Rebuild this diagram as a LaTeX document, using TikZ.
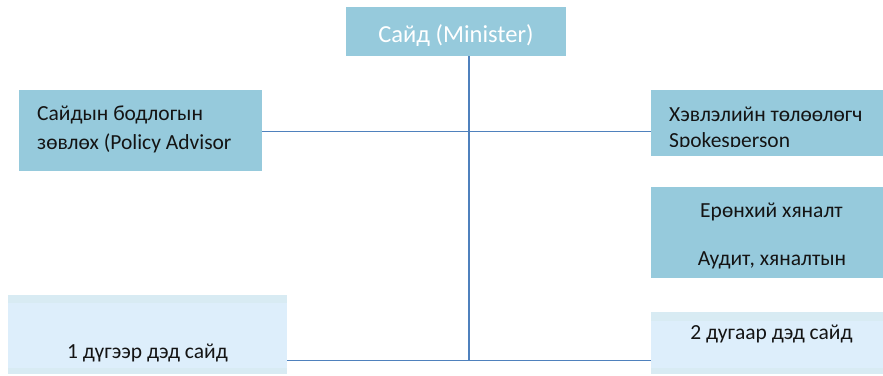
\documentclass[tikz,border=0pt]{standalone}
\usepackage{fontspec}
\setmainfont{Carlito}
\definecolor{boxblue}{HTML}{96CADC}
\definecolor{boxlight}{HTML}{DDEEFB}
\definecolor{bandlight}{HTML}{D8EBF3}
\definecolor{linkblue}{HTML}{4F81BD}
\tikzset{
  orgbox/.style={draw=none, fill=boxblue, rectangle, inner sep=0pt},
  lightbox/.style={draw=none, fill=boxlight, rectangle, inner sep=0pt},
  band/.style={draw=none, fill=bandlight, rectangle, inner sep=0pt},
  txt/.style={inner sep=0pt, font=\fontsize{21.5}{25}\selectfont, text=black!92},
  toptxt/.style={inner sep=0pt, font=\fontsize{24.5}{28}\selectfont, text=white},
  link/.style={draw=linkblue, line width=1.5pt}
}
\begin{document}
\begin{tikzpicture}[x=1pt,y=-1pt]
\useasboundingbox (0,0) rectangle (883,375);
% boxes
\node[orgbox, minimum width=220pt, minimum height=49pt] (top) at (456,31.5) {};
\node[orgbox, minimum width=243pt, minimum height=81pt] (adv) at (140.5,130.5) {};
\node[orgbox, minimum width=232pt, minimum height=66pt] (spk) at (767,123) {};
\node[orgbox, minimum width=232pt, minimum height=91pt] (aud) at (767,232.5) {};
\node[lightbox, minimum width=279pt, minimum height=79pt] (dep1) at (147.5,334.5) {};
\node[band, minimum width=279pt, minimum height=8pt] (dep1t) at (147.5,299) {};
\node[band, minimum width=279pt, minimum height=6pt] (dep1b) at (147.5,371) {};
\node[lightbox, minimum width=232pt, minimum height=62pt] (dep2) at (767,343) {};
\node[band, minimum width=232pt, minimum height=9pt] (dep2t) at (767,316.5) {};
\node[band, minimum width=232pt, minimum height=6pt] (dep2b) at (767,371) {};
% texts
\node[toptxt, anchor=base] (toptext) at (456,42.5) {Сайд (Minister)};
\node[txt, anchor=base west] (adv1) at (37,120) {Сайдын бодлогын};
\node[txt, anchor=base west] (adv2) at (37,149) {зөвлөх (Policy Advisor};
\begin{scope}
\clip (651,90) rectangle (883,146);
\node[txt, anchor=base west] (spk1) at (669,121.5) {Хэвлэлийн төлөөлөгч};
\node[txt, anchor=base west] (spk2) at (669,147.5) {Spokesperson};
\end{scope}
\node[txt, anchor=base] (aud1) at (771.5,217.5) {Ерөнхий хяналт};
\node[txt, anchor=base] (aud2) at (772,265) {Аудит, хяналтын};
\node[txt, anchor=base] (dep1text) at (147.5,358) {1 дүгээр дэд сайд};
\node[txt, anchor=base] (dep2text) at (771.5,339) {2 дугаар дэд сайд};
% connectors
\coordinate (jtop) at (469,56);
\coordinate (jbot) at (469,360.5);
\draw[link] (jtop) -- (jbot);
\draw[link] (adv.east |- 0,131.5) -- (spk.west |- 0,131.5);
\draw[link] (dep1.east |- jbot) -- (dep2.west |- jbot);
\end{tikzpicture}
\end{document}
